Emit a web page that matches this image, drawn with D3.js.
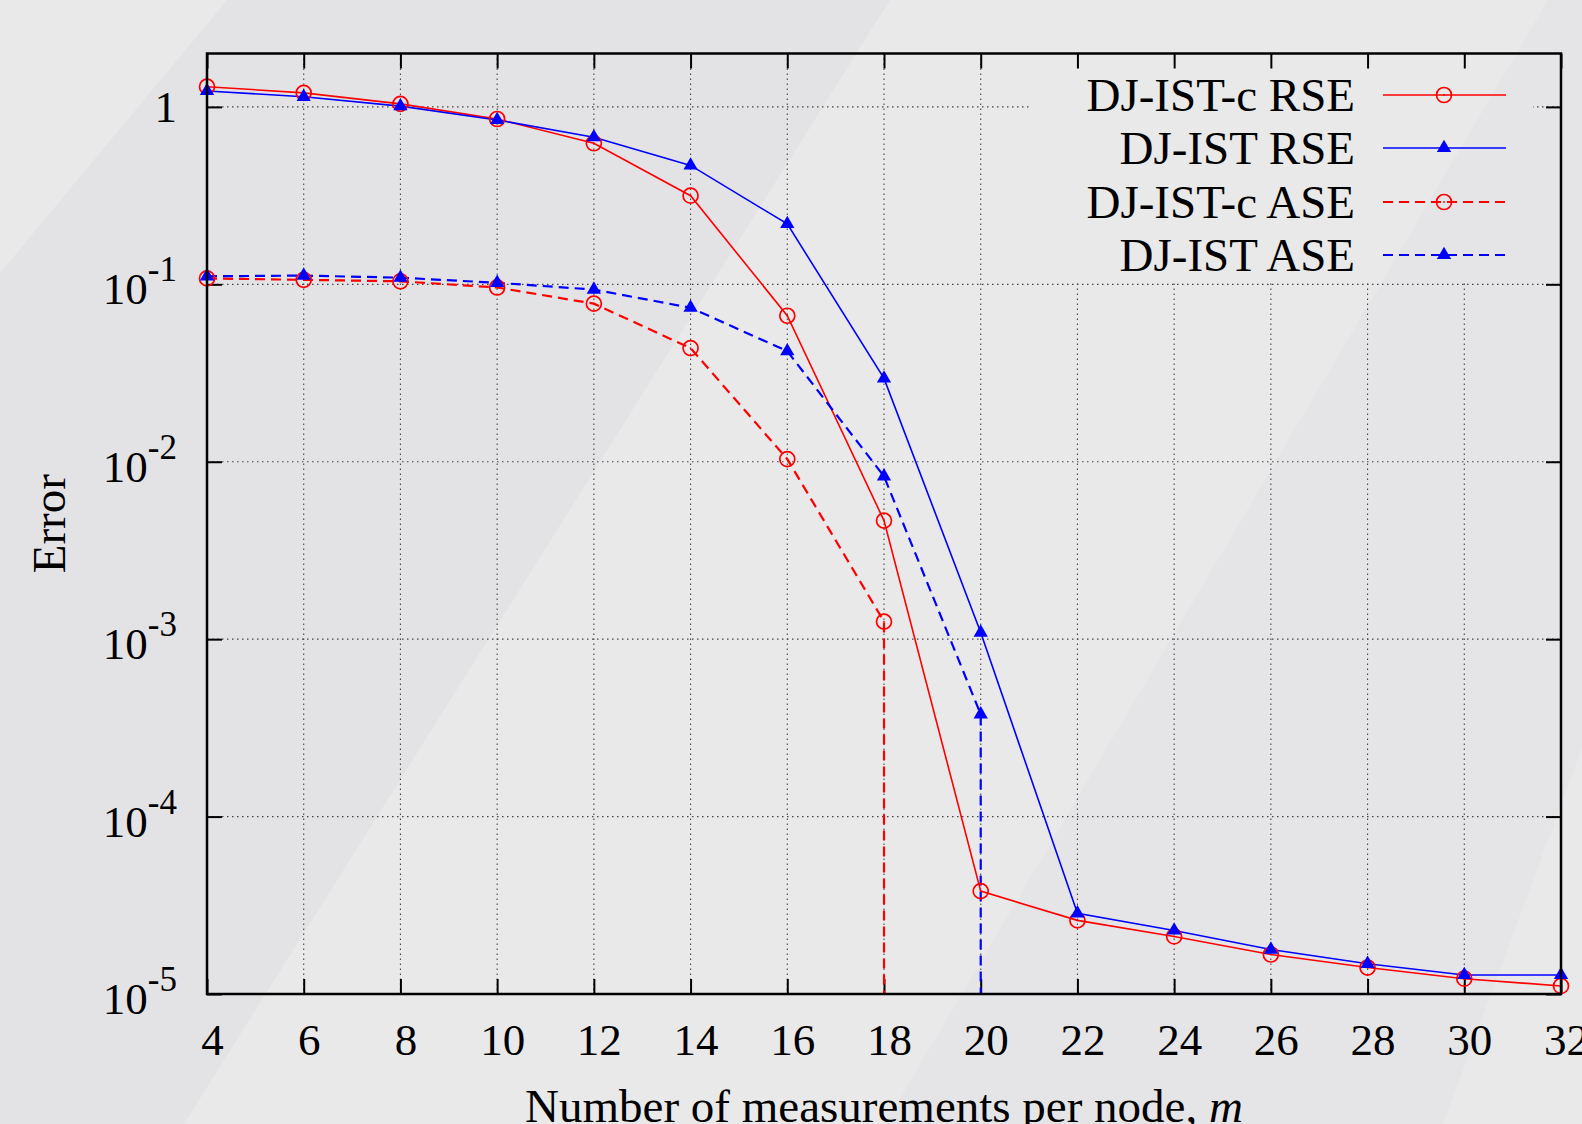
<!DOCTYPE html>
<html>
<head>
<meta charset="utf-8">
<script src="https://cdn.jsdelivr.net/npm/d3@7"></script>
<style>
  body { margin: 0; background: #e9e9e9; }
  svg { display: block; }
  text { font-family: 'Liberation Serif', 'Times New Roman', serif; fill: #000; }
</style>
</head>
<body>
<div id="chart"></div>
<script>
// Error vs number of measurements per node (log scale)

const FRAME_WIDTH = 1582;
const FRAME_HEIGHT = 1124;
const MARGINS = {left: 207, right: 21, top: 53.5, bottom: 130};

const M_VALUES = [4, 6, 8, 10, 12, 14, 16, 18, 20, 22, 24, 26, 28, 30, 32];
const DJISTC_RSE = [1.30, 1.20, 1.04, 0.855, 0.624, 0.316, 0.0665, 0.00466, 3.8e-5, 2.6e-5, 2.11e-5, 1.67e-5, 1.41e-5, 1.22e-5, 1.11e-5];
const DJIST_RSE = [1.23, 1.14, 1.01, 0.844, 0.675, 0.468, 0.219, 0.0295, 0.00109, 2.85e-5, 2.28e-5, 1.78e-5, 1.48e-5, 1.28e-5, 1.28e-5];
const DJISTC_ASE = [0.108, 0.106, 0.104, 0.096, 0.0778, 0.0437, 0.01035, 0.001256, 0, 0, 0, 0, 0, 0, 0];
const DJIST_ASE = [0.111, 0.112, 0.109, 0.102, 0.0934, 0.0738, 0.042, 0.00828, 0.000377, 0, 0, 0, 0, 0, 0];

const SERIES_NAMES = ['DJ-IST-c RSE', 'DJ-IST RSE', 'DJ-IST-c ASE', 'DJ-IST ASE'];
const X_TICKS = [4, 6, 8, 10, 12, 14, 16, 18, 20, 22, 24, 26, 28, 30, 32];
const Y_TICKS = [1e-5, 1e-4, 1e-3, 1e-2, 1e-1, 1];
const Y_EXPONENTS = [-5, -4, -3, -2, -1, 0];

const SERIES = [
  {name: SERIES_NAMES[0], values: DJISTC_RSE, color: '#ff0000', dash: null, width: 1.6, marker: 'circle'},
  {name: SERIES_NAMES[1], values: DJIST_RSE, color: '#0000ff', dash: null, width: 1.6, marker: 'triangle'},
  {name: SERIES_NAMES[2], values: DJISTC_ASE, color: '#ff0000', dash: '10,6', width: 2.2, marker: 'circle'},
  {name: SERIES_NAMES[3], values: DJIST_ASE, color: '#0000ff', dash: '10,6', width: 2.2, marker: 'triangle'}
];

const X0 = MARGINS.left, X1 = FRAME_WIDTH - MARGINS.right;
const Y0 = MARGINS.top, Y1 = FRAME_HEIGHT - MARGINS.bottom;

const xscale = d3.scaleLinear().domain([4, 32]).range([X0, X1]);
const yscale = d3.scaleLog().domain([1e-5, 2]).range([Y1, Y0]);

const svg = d3.select('#chart')
  .append('svg')
    .attr('width', FRAME_WIDTH)
    .attr('height', FRAME_HEIGHT);

// slide background with soft diagonal bands
svg.append('rect').attr('width', FRAME_WIDTH).attr('height', FRAME_HEIGHT).attr('fill', '#e9e9e9');
svg.append('polygon')
  .attr('points', '227,0 890,0 184,1124 0,1124 0,273')
  .attr('fill', '#e3e3e6');
svg.append('polygon')
  .attr('points', '1548,0 1582,0 1582,748 1443,1124 885,1124')
  .attr('fill', '#e5e5e7');

// legend box hides the grid
const LEG = {x: 1030, y: 55, w: 503, h: 225};
const mask = svg.append('defs').append('mask').attr('id', 'gridmask');
mask.append('rect').attr('width', FRAME_WIDTH).attr('height', FRAME_HEIGHT).attr('fill', 'white');
mask.append('rect').attr('x', LEG.x).attr('y', LEG.y).attr('width', LEG.w).attr('height', LEG.h).attr('fill', 'black');

const grid = svg.append('g').attr('mask', 'url(#gridmask)')
  .attr('stroke', '#444').attr('stroke-width', 1.1).attr('stroke-dasharray', '1.5,3.5');

grid.selectAll('.vgrid')
  .data(X_TICKS.slice(1, -1))
  .enter()
  .append('line')
    .attr('x1', (d) => xscale(d)).attr('x2', (d) => xscale(d))
    .attr('y1', Y0).attr('y2', Y1);

grid.selectAll('.hgrid')
  .data(Y_TICKS.slice(1))
  .enter()
  .append('line')
    .attr('x1', X0).attr('x2', X1)
    .attr('y1', (d) => yscale(d)).attr('y2', (d) => yscale(d));

// axes: inward ticks on all four sides
function styleAxis(g) {
  g.select('.domain').remove();
  g.selectAll('.tick line').attr('stroke', '#000').attr('stroke-width', 2);
}

const bottomAxis = svg.append('g')
  .attr('transform', 'translate(0,' + Y1 + ')')
  .call(d3.axisBottom(xscale).tickValues(X_TICKS).tickSize(-15))
  .call(styleAxis);
bottomAxis.selectAll('text')
  .attr('y', 61).attr('dy', null).attr('x', 5)
  .attr('font-size', '45px').attr('fill', '#000');
bottomAxis.attr('font-family', null);

svg.append('g')
  .attr('transform', 'translate(0,' + Y0 + ')')
  .call(d3.axisTop(xscale).tickValues(X_TICKS).tickSize(-15).tickFormat(''))
  .call(styleAxis);

const leftAxis = svg.append('g')
  .attr('transform', 'translate(' + X0 + ',0)')
  .call(d3.axisLeft(yscale).tickValues(Y_TICKS).tickSize(-15).tickFormat(''))
  .call(styleAxis);
leftAxis.attr('font-family', null);

svg.append('g')
  .attr('transform', 'translate(' + X1 + ',0)')
  .call(d3.axisRight(yscale).tickValues(Y_TICKS).tickSize(-15).tickFormat(''))
  .call(styleAxis);

// y tick labels with superscripts
const ylab = svg.selectAll('.ylab')
  .data(Y_TICKS)
  .enter()
  .append('text')
    .attr('class', 'ylab')
    .attr('text-anchor', 'end')
    .attr('x', 177)
    .attr('y', (d, i) => yscale(d) + (Y_EXPONENTS[i] === 0 ? 15 : 20))
    .attr('font-size', '45px');
ylab.each(function(d, i) {
  const t = d3.select(this);
  if (Y_EXPONENTS[i] === 0) {
    t.text('1');
  } else {
    t.append('tspan').text('10');
    t.append('tspan').attr('dy', -23).attr('font-size', '35px').text(Y_EXPONENTS[i]);
  }
});

// data lines; a zero drops straight to the bottom axis
function linePoints(values) {
  const pts = [];
  for (let i = 0; i < values.length; i++) {
    if (values[i] > 0) {
      pts.push([xscale(M_VALUES[i]), yscale(values[i])]);
    } else {
      pts.push([xscale(M_VALUES[i - 1]), Y1]);
      break;
    }
  }
  return pts;
}

const line = d3.line();

function drawMarker(g, kind, color, cx, cy) {
  if (kind === 'circle') {
    g.append('circle').attr('cx', cx).attr('cy', cy).attr('r', 7.5)
      .attr('fill', 'none').attr('stroke', color).attr('stroke-width', 1.7);
    g.append('circle').attr('cx', cx).attr('cy', cy).attr('r', 0.9).attr('fill', color);
  } else {
    g.append('path')
      .attr('d', d3.symbol().type(d3.symbolTriangle).size(88)())
      .attr('transform', 'translate(' + cx + ',' + cy + ')')
      .attr('fill', color);
  }
}

const plot = svg.append('g');
SERIES.forEach((s) => {
  plot.append('path')
    .attr('d', line(linePoints(s.values)))
    .attr('fill', 'none')
    .attr('stroke', s.color)
    .attr('stroke-width', s.width)
    .attr('stroke-dasharray', s.dash);
});
SERIES.forEach((s) => {
  const g = plot.append('g');
  s.values.forEach((v, i) => {
    if (v > 0) drawMarker(g, s.marker, s.color, xscale(M_VALUES[i]), yscale(v));
  });
});

// border
svg.append('rect')
  .attr('x', X0).attr('y', Y0)
  .attr('width', X1 - X0).attr('height', Y1 - Y0)
  .attr('fill', 'none').attr('stroke', '#000').attr('stroke-width', 2.5);

// legend
const ROW_Y = [95, 148, 202, 255];
const legend = svg.append('g');
SERIES.forEach((s, i) => {
  legend.append('text')
    .attr('x', 1355).attr('y', ROW_Y[i] + 16)
    .attr('text-anchor', 'end')
    .attr('font-size', '47px')
    .text(s.name);
  legend.append('line')
    .attr('x1', 1383).attr('x2', 1506)
    .attr('y1', ROW_Y[i]).attr('y2', ROW_Y[i])
    .attr('stroke', s.color)
    .attr('stroke-width', s.width)
    .attr('stroke-dasharray', s.dash);
  drawMarker(legend, s.marker, s.color, 1444, ROW_Y[i]);
});

// axis titles
svg.append('text')
  .attr('transform', 'translate(65,' + ((Y0 + Y1) / 2) + ') rotate(-90)')
  .attr('text-anchor', 'middle')
  .attr('font-size', '47px')
  .text('Error');

const xt = svg.append('text')
  .attr('x', (X0 + X1) / 2).attr('y', 1122)
  .attr('text-anchor', 'middle')
  .attr('font-size', '47px');
xt.append('tspan').text('Number of measurements per node, ');
xt.append('tspan').attr('font-style', 'italic').text('m');
</script>
</body>
</html>
